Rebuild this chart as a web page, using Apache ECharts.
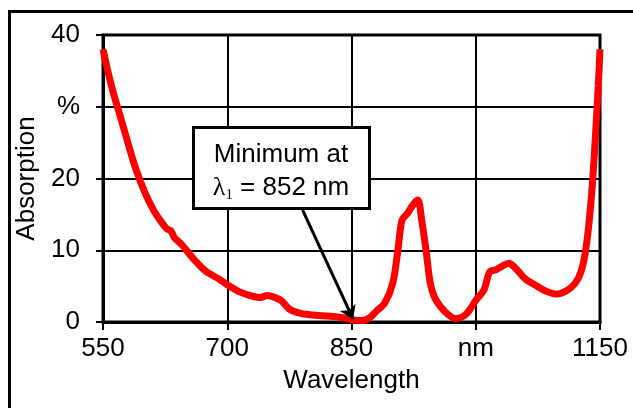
<!DOCTYPE html>
<html>
<head>
<meta charset="utf-8">
<script src="https://cdn.jsdelivr.net/npm/echarts@6/dist/echarts.min.js"></script>
<style>
  html, body { margin: 0; padding: 0; background: #fff; }
  #chart { width: 633px; height: 408px; }
</style>
</head>
<body>
<div id="chart"></div>
<script>
// wavelength (nm) and absorption (%)
const wavelengths = [550, 555, 560, 565, 570, 580, 590, 600, 610, 620, 627, 632, 636, 645, 660, 675, 690, 700,
  715, 730, 740, 748, 758, 765, 775, 785, 800, 825, 840, 852, 862, 872, 880, 890, 900, 906, 911, 918, 924, 930,
  935, 940, 945, 950, 957, 965, 975, 982, 990, 1000, 1010, 1017, 1025, 1032, 1040, 1048, 1060, 1074, 1085, 1098,
  1110, 1120, 1127, 1132, 1136, 1140, 1143, 1146, 1148, 1150];
const absorption = [38, 35.4, 33, 30.9, 29, 25, 21.2, 18.2, 15.8, 14, 13, 12.7, 11.8, 10.8, 8.7, 7, 6, 5.2,
  4.2, 3.6, 3.4, 3.7, 3.4, 3.0, 1.8, 1.3, 1.0, 0.8, 0.6, 0.3, 0.2, 0.6, 1.5, 2.6, 5.5, 10, 14.2, 15.2, 16.3, 17,
  14, 10, 5.5, 3.5, 2.2, 1.2, 0.5, 0.6, 1.3, 3, 4.5, 7, 7.3, 7.8, 8.2, 7.5, 6, 5, 4.3, 3.9,
  4.4, 5.4, 7, 9.5, 13, 18, 23, 29, 33, 38];
const xTicks = [550, 700, 850, 1000, 1150];
const xTickNames = ['550', '700', '850', 'nm', '1150'];
const yTicks = [0, 10, 20, 30, 40];
const yTickNames = ['0', '10', '20', '%', '40'];
const minimumAt = 852;
const minimumValue = 0.4;

const font = '"Liberation Sans", Arial, sans-serif';
const serif = '"Liberation Serif", "Times New Roman", serif';

const chart = echarts.init(document.getElementById('chart'));

const option = {
  animation: false,
  backgroundColor: '#fff',
  grid: {
    left: 103, right: 33, top: 35, bottom: 86,
    show: true, borderColor: '#000', borderWidth: 3, backgroundColor: 'transparent'
  },
  xAxis: {
    type: 'value',
    min: 550, max: 1150, interval: 150,
    name: 'Wavelength', nameLocation: 'middle', nameGap: 46,
    nameTextStyle: { fontFamily: font, fontSize: 26, color: '#000' },
    axisLine: { show: true, lineStyle: { color: '#000', width: 3 } },
    axisTick: { show: true, length: 8, lineStyle: { color: '#000', width: 2 } },
    axisLabel: {
      margin: 14, color: '#000', fontFamily: font, fontSize: 26,
      formatter: v => xTickNames[xTicks.indexOf(v)]
    },
    splitLine: { show: true, lineStyle: { color: '#000', width: 2 } }
  },
  yAxis: {
    type: 'value',
    min: 0, max: 40, interval: 10,
    name: 'Absorption', nameLocation: 'middle', nameGap: 61,
    nameTextStyle: { fontFamily: font, fontSize: 26, color: '#000' },
    axisLine: { show: true, lineStyle: { color: '#000', width: 3 } },
    axisTick: { show: true, length: 7, lineStyle: { color: '#000', width: 2 } },
    axisLabel: {
      margin: 23, color: '#000', fontFamily: font, fontSize: 26,
      formatter: v => yTickNames[yTicks.indexOf(v)]
    },
    splitLine: { show: true, lineStyle: { color: '#000', width: 2 } }
  },
  series: [{
    type: 'line',
    data: wavelengths.map((w, i) => [w, absorption[i]]),
    showSymbol: false,
    smooth: 0.3,
    lineStyle: { color: '#ff0000', width: 7 },
    z: 5,
    markLine: {
      silent: true,
      symbol: ['none', 'arrow'],
      symbolSize: 13,
      label: { show: false },
      lineStyle: { color: '#000', width: 3, type: 'solid' },
      data: [[{ coord: [791, 15.6] }, { coord: [minimumAt, minimumValue] }]],
      z: 6
    }
  }],
  graphic: [
    {
      type: 'rect', z: 100,
      shape: { x: 9.5, y: 11.5, width: 700, height: 500 },
      style: { fill: 'rgba(0,0,0,0)', stroke: '#000', lineWidth: 3 }
    },
    {
      type: 'rect', z: 100,
      shape: { x: 193.5, y: 127.5, width: 176, height: 81 },
      style: { fill: '#fff', stroke: '#000', lineWidth: 3 }
    },
    {
      type: 'text', z: 101,
      x: 281, y: 155,
      style: {
        text: 'Minimum at', fontFamily: font, fontSize: 26, fill: '#000',
        align: 'center', verticalAlign: 'middle'
      }
    },
    {
      type: 'text', z: 101,
      x: 281, y: 188,
      style: {
        text: '{l|λ}{s|1}{t| = 852 nm}',
        align: 'center', verticalAlign: 'middle',
        rich: {
          l: { fontFamily: serif, fontSize: 26, color: '#000' },
          s: { fontFamily: serif, fontSize: 15, color: '#000', padding: [14, 0, 0, 0] },
          t: { fontFamily: font, fontSize: 26, color: '#000' }
        }
      }
    }
  ]
};

chart.setOption(option);
</script>
</body>
</html>
